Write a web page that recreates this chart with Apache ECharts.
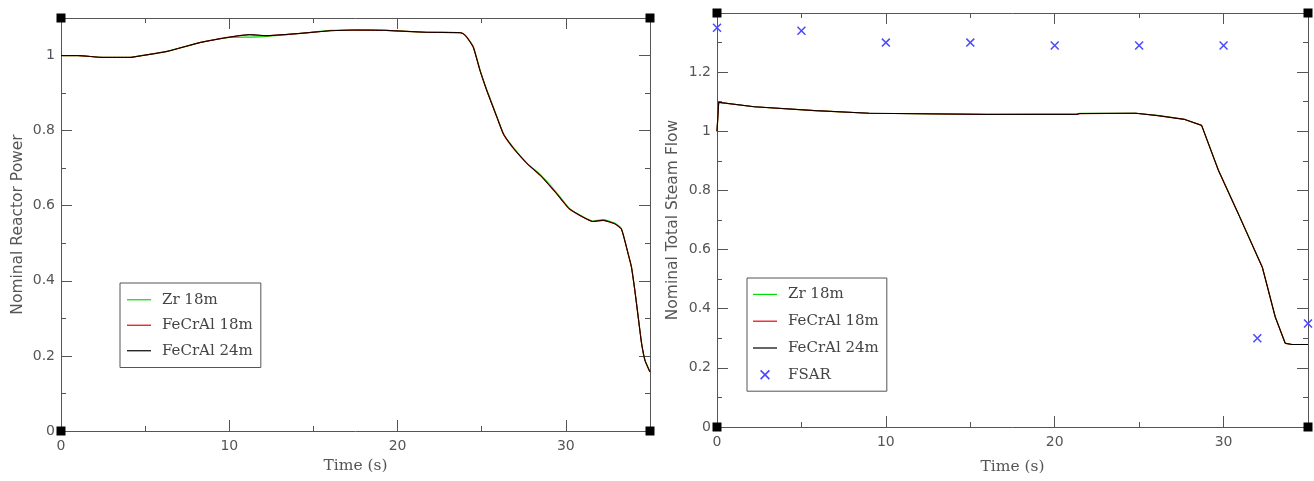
<!DOCTYPE html>
<html>
<head>
<meta charset="utf-8">
<script src="https://cdn.jsdelivr.net/npm/echarts@6/dist/echarts.min.js"></script>
<style>
  html, body { margin: 0; padding: 0; background: #fff; }
  #chart { width: 1314px; height: 481px; }
</style>
</head>
<body>
<div id="chart"></div>
<script>
// 左图: 反应堆功率
const powerTime = [0, 1, 2.5, 4.1, 4.7, 6.3, 8.3, 10, 11.2, 12.2, 14.2, 16, 17.5, 19.3, 21.7, 23.7, 23.9, 24.1, 24.5, 24.9, 25.3, 25.9, 26.3, 26.9, 27.7, 28.5, 29.45, 30.2, 31.0, 31.6, 32.2, 32.9, 33.3, 33.7, 33.9, 34.1, 34.3, 34.5, 34.7, 35]
const powerFe24 = [1.000, 1.000, 0.995, 0.995, 0.999, 1.011, 1.035, 1.049, 1.056, 1.053, 1.059, 1.066, 1.068, 1.067, 1.062, 1.061, 1.058, 1.050, 1.022, 0.960, 0.907, 0.836, 0.790, 0.752, 0.712, 0.680, 0.632, 0.592, 0.570, 0.558, 0.561, 0.552, 0.538, 0.472, 0.436, 0.374, 0.303, 0.233, 0.188, 0.157]
const powerFe18 = [1.000, 1.000, 0.995, 0.995, 0.999, 1.011, 1.035, 1.049, 1.055, 1.053, 1.059, 1.066, 1.068, 1.067, 1.062, 1.061, 1.058, 1.050, 1.022, 0.960, 0.907, 0.836, 0.790, 0.752, 0.712, 0.680, 0.632, 0.592, 0.570, 0.558, 0.561, 0.552, 0.538, 0.472, 0.436, 0.374, 0.303, 0.233, 0.188, 0.157]
const powerZr = [1.000, 1.000, 0.995, 0.995, 0.999, 1.011, 1.035, 1.048, 1.049, 1.051, 1.059, 1.067, 1.068, 1.067, 1.062, 1.061, 1.058, 1.050, 1.024, 0.962, 0.909, 0.838, 0.791, 0.754, 0.713, 0.682, 0.635, 0.593, 0.571, 0.559, 0.563, 0.554, 0.539, 0.473, 0.437, 0.375, 0.304, 0.234, 0.189, 0.157]

// 右图: 总蒸汽流量
const flowTime = [0, 0.1, 2.2, 5.8, 9, 16, 21.3, 21.5, 24.8, 26.1, 27.7, 28.7, 29.7, 30.8, 32.3, 33.06, 33.65, 34.05, 35]
const flowFe24 = [1.00, 1.098, 1.083, 1.070, 1.061, 1.057, 1.057, 1.060, 1.061, 1.053, 1.040, 1.020, 0.867, 0.730, 0.539, 0.372, 0.283, 0.279, 0.279]
const flowFe18 = [1.00, 1.098, 1.083, 1.070, 1.061, 1.057, 1.057, 1.060, 1.061, 1.053, 1.040, 1.020, 0.867, 0.730, 0.539, 0.372, 0.283, 0.279, 0.279]
const flowZr = [1.00, 1.098, 1.083, 1.070, 1.061, 1.057, 1.059, 1.061, 1.061, 1.054, 1.040, 1.020, 0.868, 0.731, 0.540, 0.373, 0.284, 0.279, 0.279]

// FSAR 参考点
const fsarTime = [0, 5, 10, 15, 20, 25, 30, 32, 35]
const fsarFlow = [1.35, 1.34, 1.30, 1.30, 1.29, 1.29, 1.29, 0.30, 0.35]

const names = ['Zr 18m', 'FeCrAl 18m', 'FeCrAl 24m', 'FSAR']
const colors = ['#00dd00', '#ee0000', '#000000', '#4a4aff']
const xMax = 35
const yMaxLeft = 1.1
const yMaxRight = 1.4

const zip = (t, v) => t.map((x, i) => [x, v[i]])
const axisColor = '#555'
const labelFont = { color: '#555', fontFamily: 'DejaVu Sans', fontSize: 14 }
const crossPath = 'path://M0,1.2L1.2,0L10,8.8L8.8,10Z M8.8,0L10,1.2L1.2,10L0,8.8Z'
const linePath = 'path://M0,0L24,0L24,1.2L0,1.2Z'

// 每条边两根轴: 短刻度(次) + 长刻度(主)
function makeX(g, label, gap) {
  let base = {
    type: 'value', gridIndex: g, min: 0, max: xMax,
    splitLine: { show: false },
    axisLine: { show: true, onZero: false, lineStyle: { color: axisColor } },
  }
  return [
    Object.assign({}, base, {
      position: 'bottom', interval: 5,
      axisTick: { inside: true, length: 5, lineStyle: { color: axisColor } },
      axisLabel: Object.assign({ margin: 8, formatter: v => (v % 10 === 0 ? String(v) : '') }, labelFont),
      name: label, nameLocation: 'middle', nameGap: gap,
      nameTextStyle: { color: '#555', fontFamily: 'DejaVu Serif', fontSize: 15.5 }
    }),
    Object.assign({}, base, {
      position: 'bottom', interval: 10, axisLine: { show: false, onZero: false },
      axisTick: { inside: true, length: 11, lineStyle: { color: axisColor } },
      axisLabel: { show: false }
    }),
    Object.assign({}, base, {
      position: 'top', interval: 5,
      axisTick: { inside: true, length: 5, lineStyle: { color: axisColor } },
      axisLabel: { show: false }
    }),
    Object.assign({}, base, {
      position: 'top', interval: 10, axisLine: { show: false, onZero: false },
      axisTick: { inside: true, length: 11, lineStyle: { color: axisColor } },
      axisLabel: { show: false }
    })
  ]
}

function makeY(g, max, label, gap) {
  let base = {
    type: 'value', gridIndex: g, min: 0, max: max,
    splitLine: { show: false },
    axisLine: { show: true, onZero: false, lineStyle: { color: axisColor } },
  }
  return [
    Object.assign({}, base, {
      position: 'left', interval: 0.1,
      axisTick: { inside: true, length: 5, lineStyle: { color: axisColor } },
      axisLabel: Object.assign({
        margin: 6,
        formatter: v => (Math.round(v * 10) % 2 === 0 && v < max - 1e-6 ? String(Math.round(v * 10) / 10) : '')
      }, labelFont),
      name: label, nameLocation: 'middle', nameGap: gap,
      nameTextStyle: { color: '#555', fontFamily: 'DejaVu Sans', fontSize: 15.5 }
    }),
    Object.assign({}, base, {
      position: 'left', interval: 0.2, axisLine: { show: false, onZero: false },
      axisTick: { inside: true, length: 11, lineStyle: { color: axisColor } },
      axisLabel: { show: false }
    }),
    Object.assign({}, base, {
      position: 'right', interval: 0.1,
      axisTick: { inside: true, length: 5, lineStyle: { color: axisColor } },
      axisLabel: { show: false }
    }),
    Object.assign({}, base, {
      position: 'right', interval: 0.2, axisLine: { show: false, onZero: false },
      axisTick: { inside: true, length: 11, lineStyle: { color: axisColor } },
      axisLabel: { show: false }
    })
  ]
}

function lineSeries(name, color, xi, data, w, sm) {
  return {
    name: name, type: 'line', xAxisIndex: xi, yAxisIndex: xi,
    symbol: 'none', showSymbol: false, smooth: sm,
    lineStyle: { color: color, width: w }, itemStyle: { color: color },
    data: data
  }
}

function corners(g, yMax) {
  return {
    type: 'scatter', xAxisIndex: g * 4, yAxisIndex: g * 4, silent: true,
    symbol: 'rect', symbolSize: 9, clip: false, z: 10,
    itemStyle: { color: '#000', opacity: 1 },
    data: [[0, 0], [xMax, 0], [0, yMax], [xMax, yMax]]
  }
}

function legendBox(left, top, items, lh, pad) {
  return {
    orient: 'vertical', left: left, top: top,
    padding: pad, itemGap: 0, itemWidth: 24, itemHeight: 10,
    symbolKeepAspect: true,
    borderColor: '#555', borderWidth: 1, borderRadius: 0,
    backgroundColor: '#fff', selectedMode: false,
    textStyle: { fontFamily: 'DejaVu Serif', fontSize: 15, color: '#444', lineHeight: lh, padding: [0, 0, 0, 6] },
    data: items.map(n => ({ name: n, icon: n === 'FSAR' ? crossPath : linePath }))
  }
}

let myChart = echarts.init(document.getElementById('chart'))
let option = {
  animation: false,
  backgroundColor: '#fff',
  grid: [
    { left: 61, top: 18, width: 589, height: 413 },
    { left: 717, top: 13, width: 591, height: 414 }
  ],
  xAxis: makeX(0, 'Time (s)', 23).concat(makeX(1, 'Time (s)', 32)),
  yAxis: makeY(0, yMaxLeft, 'Nominal Reactor Power', 35).concat(makeY(1, yMaxRight, 'Nominal Total Steam Flow', 36)),
  legend: [
    legendBox(120, 283, names.slice(0, 3), 25.5, [4, 8, 4, 7]),
    legendBox(747, 278, names, 26.8, [3, 8, 3, 6])
  ],
  series: [
    lineSeries(names[0], colors[0], 0, zip(powerTime, powerZr), 1.2, 0.15),
    lineSeries(names[1], colors[1], 0, zip(powerTime, powerFe18), 1.2, 0.15),
    lineSeries(names[2], colors[2], 0, zip(powerTime, powerFe24), 1, 0.15),
    lineSeries(names[0], colors[0], 4, zip(flowTime, flowZr), 1.2, false),
    lineSeries(names[1], colors[1], 4, zip(flowTime, flowFe18), 1.2, false),
    lineSeries(names[2], colors[2], 4, zip(flowTime, flowFe24), 1, false),
    {
      name: names[3], type: 'scatter', xAxisIndex: 4, yAxisIndex: 4,
      symbol: crossPath, symbolSize: 9, symbolKeepAspect: true, clip: false,
      itemStyle: { color: colors[3], opacity: 1 },
      data: zip(fsarTime, fsarFlow)
    },
    corners(0, yMaxLeft),
    corners(1, yMaxRight)
  ]
}
myChart.setOption(option)
</script>
</body>
</html>
